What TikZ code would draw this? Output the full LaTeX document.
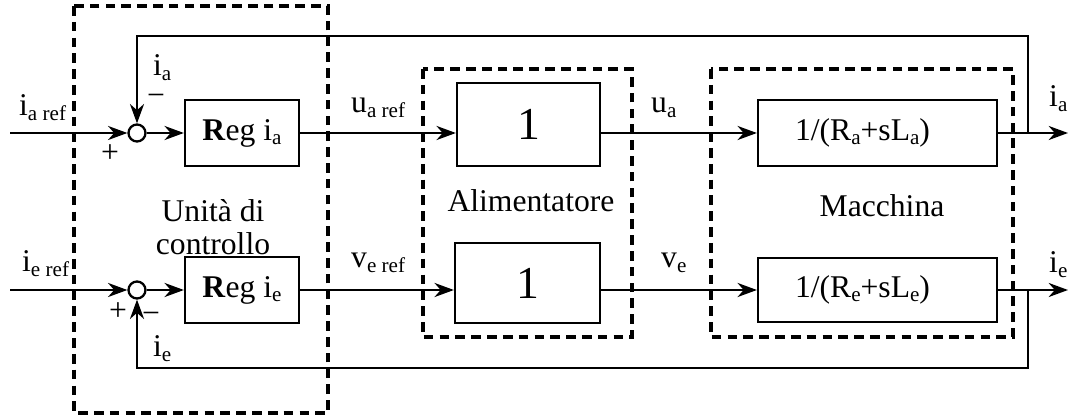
\documentclass[tikz,border=0pt]{standalone}
\usepackage{fontspec}
\setmainfont{Liberation Serif}
\usetikzlibrary{arrows.meta, positioning, calc}
\newcommand{\lbl}{\fontsize{18}{17.6}\selectfont}
\newcommand{\lb}[1]{\raisebox{-0.3ex}{\fontsize{12}{13}\selectfont #1}}

\begin{document}
\begin{tikzpicture}[
    x=0.02cm, y=-0.02cm,
    every node/.style={font=\lbl},
    block/.style={rectangle, draw, line width=1.3pt, inner sep=0pt, minimum width=2.28cm, minimum height=1.32cm},
    sumnode/.style={circle, draw, line width=1.3pt, minimum size=0.34cm, inner sep=0pt},
    arrow/.style={-{Stealth[length=11pt, width=8pt, inset=3.5pt]}, line width=1.3pt},
    group/.style={line width=2pt, dash pattern=on 5.5pt off 3.5pt}
]
\useasboundingbox (0,0) rectangle (1071,418);

% gruppi tratteggiati
\draw[group] (74,6) rectangle (328,413);
\draw[group] (423,69) rectangle (632,337);
\draw[group] (711,69) rectangle (1013,337);

% blocchi
\node[sumnode] (sumA) at (137,133) {};
\node[sumnode] (sumE) at (137,290) {};
\node[block] (regA) at (242,133) {\textbf{R}eg i\lb{a}};
\node[block] (regE) at (242,290) {\textbf{R}eg i\lb{e}};
\node[block, minimum width=2.86cm, minimum height=1.66cm, font=\fontsize{26}{28}\selectfont] (alimA) at (528.5,124.5) {1};
\node[block, minimum width=2.9cm, minimum height=1.6cm, font=\fontsize{26}{28}\selectfont] (alimE) at (527.5,283) {1};
\node[block, minimum width=4.78cm] (machA) at (877.5,133) {1/(R\lb{a}+sL\lb{a})\rule{0.6cm}{0pt}};
\node[block, minimum width=4.78cm, minimum height=1.28cm] (machE) at (877.5,290) {1/(R\lb{e}+sL\lb{e})\rule{0.6cm}{0pt}};

\node (unita) at (213,227) [align=center, font=\fontsize{18}{18.5}\selectfont] {Unità di\\controllo};
\node[anchor=base] (alim) at (531,212) {Alimentatore};
\node[anchor=base] (mach) at (882,217) {Macchina};

% punti di ingresso, uscita e diramazione
\coordinate (inA) at (10,133);
\coordinate (inE) at (10,290);
\coordinate (outA) at (1068,133);
\coordinate (outE) at (1068,290);
\coordinate (tapA) at (1028,133);
\coordinate (tapE) at (1028,290);
\coordinate (fbA) at (137,36);
\coordinate (fbE) at (137,368);

% collegamenti
\draw[arrow] (inA) -- (sumA);
\draw[arrow] (inE) -- (sumE);
\draw[arrow] (sumA) -- (regA);
\draw[arrow] (sumE) -- (regE);
\draw[arrow] (regA.east) -- (alimA.west |- regA.east);
\draw[arrow] (regE.east) -- (alimE.west |- regE.east);
\draw[arrow] (alimA.east |- regA) -- (machA);
\draw[arrow] (alimE.east |- regE) -- (machE);
\draw[arrow] (machA) -- (outA);
\draw[arrow] (machE) -- (outE);
\draw[arrow] (tapA) |- (fbA) -- (sumA);
\draw[arrow] (tapE) |- (fbE) -- (sumE);

% etichette dei segnali
\node[anchor=base west] (iaref) at (13,116) {i\lb{a ref}};
\node[anchor=base west] (ieref) at (16,272) {i\lb{e ref}};
\node[anchor=base west] (iafb) at (147,76) {i\lb{a}};
\node[anchor=base west] (iefb) at (147,357) {i\lb{e}};
\node[anchor=base] (minA) at (156,106) {−};
\node[anchor=base] (plusA) at (110,163) {+};
\node[anchor=base] (plusE) at (118,320) {+};
\node[anchor=base] (minE) at (151,324) {−};
\node[anchor=base west] (uaref) at (345,113) {u\lb{a ref}};
\node[anchor=base west] (veref) at (345,268) {v\lb{e ref}};
\node[anchor=base west] (ua) at (645,113) {u\lb{a}};
\node[anchor=base west] (ve) at (655,268) {v\lb{e}};
\node[anchor=base west] (iaout) at (1043,107) {i\lb{a}};
\node[anchor=base west] (ieout) at (1043,273) {i\lb{e}};
\end{tikzpicture}
\end{document}
